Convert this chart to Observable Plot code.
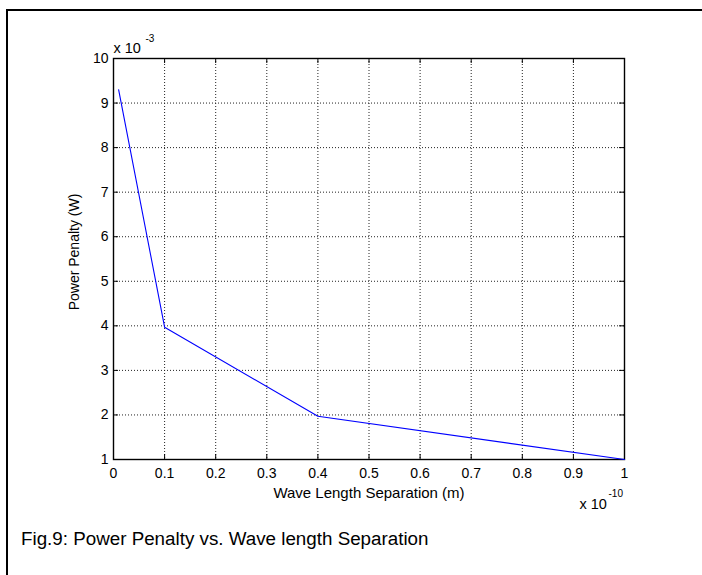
<!DOCTYPE html>
<html>
<head>
<meta charset="utf-8">
<script src="https://cdn.jsdelivr.net/npm/d3@7"></script>
<script src="https://cdn.jsdelivr.net/npm/@observablehq/plot@0.6"></script>
<style>
  html, body { margin: 0; padding: 0; background: #fff; }
  #wrap { position: relative; width: 702px; height: 575px; overflow: hidden; background: #fff; font-family: "Liberation Sans", Arial, sans-serif; }
  #border { position: absolute; left: 6px; top: 9px; width: 900px; height: 900px; border-left: 2px solid #000; border-top: 2px solid #000; }
  #chart { position: absolute; left: 0; top: 0; }
  #caption { position: absolute; left: 21px; top: 529px; font-size: 18.8px; line-height: 19px; color: #000; white-space: nowrap; }
</style>
</head>
<body>
<div id="wrap">
  <div id="border"></div>
  <div id="chart"></div>
  <div id="caption">Fig.9: Power Penalty vs. Wave length Separation</div>
</div>
<script>
// Wavelength separation, in units of 1e-10 m
const separation = [0.01, 0.1, 0.4, 1.0];
// Power penalty, in units of 1e-3 W
const penalty = [9.3, 3.97, 1.97, 1.0];

const xTicks = [0, 0.1, 0.2, 0.3, 0.4, 0.5, 0.6, 0.7, 0.8, 0.9, 1];
const xTickLabels = ["0", "0.1", "0.2", "0.3", "0.4", "0.5", "0.6", "0.7", "0.8", "0.9", "1"];
const yTicks = [1, 2, 3, 4, 5, 6, 7, 8, 9, 10];
const yTickLabels = ["1", "2", "3", "4", "5", "6", "7", "8", "9", "10"];

const xLabel = "Wave Length Separation (m)";
const yLabel = "Power Penalty (W)";
const xMultiplier = "x 10";
const xExponent = "-10";
const yMultiplier = "x 10";
const yExponent = "-3";

const data = separation.map((s, i) => ({s, p: penalty[i]}));

const W = 702, H = 520, mL = 113, mR = 78, mT = 58, mB = 61;
const innerW = W - mL - mR, innerH = H - mT - mB;
const tickLen = 5;

const chart = Plot.plot({
  width: W, height: H,
  marginLeft: mL, marginRight: mR, marginTop: mT, marginBottom: mB,
  style: {fontFamily: "'Liberation Sans', Arial, sans-serif", fontSize: "14px", color: "#000", background: "transparent"},
  x: {domain: [0, 1]},
  y: {domain: [1, 10]},
  marks: [
    Plot.gridX(xTicks, {stroke: "#222", strokeOpacity: 1, strokeDasharray: "1,2"}),
    Plot.gridY(yTicks, {stroke: "#222", strokeOpacity: 1, strokeDasharray: "1,2"}),
    Plot.tickX(xTicks, {x: d => d, insetTop: innerH - tickLen, stroke: "#000"}),
    Plot.tickX(xTicks, {x: d => d, insetBottom: innerH - tickLen, stroke: "#000"}),
    Plot.tickY(yTicks, {y: d => d, insetRight: innerW - tickLen, stroke: "#000"}),
    Plot.tickY(yTicks, {y: d => d, insetLeft: innerW - tickLen, stroke: "#000"}),
    Plot.frame({stroke: "#000", strokeWidth: 1.4}),
    Plot.axisX({ticks: xTicks, tickSize: 0, tickPadding: 9, tickFormat: (d, i) => xTickLabels[i], label: null}),
    Plot.axisY({ticks: yTicks, tickSize: 0, tickPadding: 5, tickFormat: (d, i) => yTickLabels[i], label: null}),
    Plot.line(data, {x: "s", y: "p", stroke: "#0000ff", strokeWidth: 1.1}),
    Plot.text([xLabel], {frameAnchor: "bottom", textAnchor: "middle", lineAnchor: "bottom", dy: 38, fontSize: 15}),
    Plot.text([yLabel], {frameAnchor: "left", textAnchor: "middle", lineAnchor: "middle", rotate: -90, dx: -39, dy: -7, fontSize: 14}),
    Plot.text([yMultiplier], {frameAnchor: "top-left", textAnchor: "start", lineAnchor: "bottom", dy: -6, fontSize: 14.5}),
    Plot.text([yExponent], {frameAnchor: "top-left", textAnchor: "start", lineAnchor: "bottom", dx: 32, dy: -17, fontSize: 10}),
    Plot.text([xMultiplier], {frameAnchor: "bottom-right", textAnchor: "start", lineAnchor: "bottom", dx: -45, dy: 49, fontSize: 14.5}),
    Plot.text([xExponent], {frameAnchor: "bottom-right", textAnchor: "start", lineAnchor: "bottom", dx: -16, dy: 37, fontSize: 10})
  ]
});
document.getElementById("chart").appendChild(chart);
</script>
</body>
</html>
